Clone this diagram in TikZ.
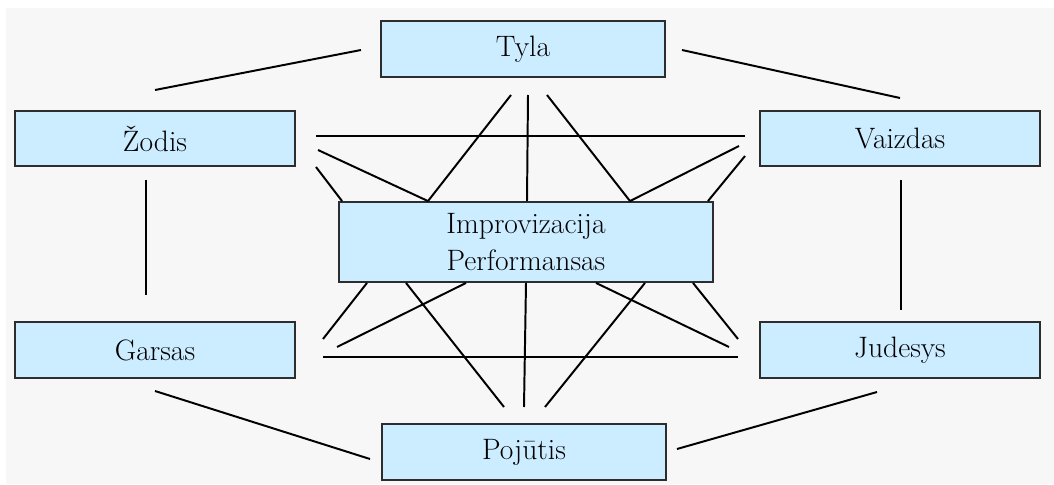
\documentclass[tikz,border=0pt]{standalone}
\usepackage{fontspec}
\usepackage{tikz}
\usetikzlibrary{calc}

\definecolor{boxblue}{RGB}{204,236,255}
\definecolor{boxline}{RGB}{45,45,45}
\definecolor{bggray}{RGB}{247,247,247}

\tikzset{
  sensebox/.style={draw=boxline, line width=1.3pt, fill=boxblue,
    minimum width=7cm, minimum height=1.38cm, inner sep=0pt,
    font=\fontsize{21}{26}\selectfont},
  link/.style={line width=1.4pt, black}
}

\begin{document}
\begin{tikzpicture}[x=0.025cm, y=-0.025cm]
    % canvas and grey backdrop
    \useasboundingbox (0,0) rectangle (1054,485);
    \fill[bggray] (6,8) rectangle (1054,484);

    % the seven boxes
    \node[sensebox, minimum width=7.1cm] (tyla) at (523,49) {Tyla};
    \node[sensebox] (zodis)   at (155,138.5) {Žodis};
    \node[sensebox] (vaizdas) at (900,138.5) {Vaizdas};
    \node[sensebox, minimum width=9.35cm, minimum height=2cm, align=center]
        (impro) at (526,242) {Improvizacija\\Performansas};
    \node[sensebox] (garsas)  at (155,350) {Garsas};
    \node[sensebox] (judesys) at (900,350) {Judesys};
    \node[sensebox, minimum width=7.1cm] (pojutis) at (524,452) {Pojūtis};

    % free ends near the outer boxes
    \coordinate (t1) at (361,50);  \coordinate (t2) at (682,50);
    \coordinate (t3) at (511,95);  \coordinate (t4) at (528,95);
    \coordinate (t5) at (547,95);
    \coordinate (z1) at (155,90);  \coordinate (z2) at (316,136);
    \coordinate (z3) at (318,150); \coordinate (z4) at (316,167);
    \coordinate (z5) at (146,180);
    \coordinate (v1) at (900,98);  \coordinate (v2) at (745,136);
    \coordinate (v3) at (739,146); \coordinate (v4) at (745,156);
    \coordinate (v5) at (901,180);
    \coordinate (g1) at (146,295); \coordinate (g2) at (323,339);
    \coordinate (g3) at (337,347); \coordinate (g4) at (323,357);
    \coordinate (g5) at (155,391);
    \coordinate (j1) at (901,310); \coordinate (j2) at (738,339);
    \coordinate (j3) at (729,347); \coordinate (j4) at (738,357);
    \coordinate (j5) at (877,392);
    \coordinate (p1) at (370,459); \coordinate (p2) at (504,407);
    \coordinate (p3) at (524,407); \coordinate (p4) at (545,407);
    \coordinate (p5) at (677,449);

    % outer ring
    \draw[link] (t1) -- (z1);
    \draw[link] (t2) -- (v1);
    \draw[link] (z5) -- (g1);
    \draw[link] (v5) -- (j1);
    \draw[link] (g5) -- (p1);
    \draw[link] (j5) -- (p5);
    \draw[link] (z2) -- (v2);
    \draw[link] (g4) -- (j4);

    % lines meeting the top of the centre box
    \draw[link] (z3) -- ($(impro.north)+(-98,0)$);
    \draw[link] (z4) -- ($(impro.north west)+(4,0)$);
    \draw[link] (t3) -- ($(impro.north)+(-98,0)$);
    \draw[link] (t4) -- ($(impro.north)+(1,0)$);
    \draw[link] (t5) -- ($(impro.north)+(104,0)$);
    \draw[link] (v3) -- ($(impro.north)+(104,0)$);
    \draw[link] (v4) -- ($(impro.north east)+(-6,0)$);

    % lines leaving the bottom of the centre box
    \draw[link] ($(impro.south)+(-159,0)$) -- (g2);
    \draw[link] ($(impro.south)+(-60,0)$)  -- (g3);
    \draw[link] ($(impro.south)+(-120,0)$) -- (p2);
    \draw[link] (impro.south) -- (p3);
    \draw[link] ($(impro.south)+(119,0)$)  -- (p4);
    \draw[link] ($(impro.south)+(70,0)$)   -- (j3);
    \draw[link] ($(impro.south)+(167,0)$)  -- (j2);
\end{tikzpicture}
\end{document}
